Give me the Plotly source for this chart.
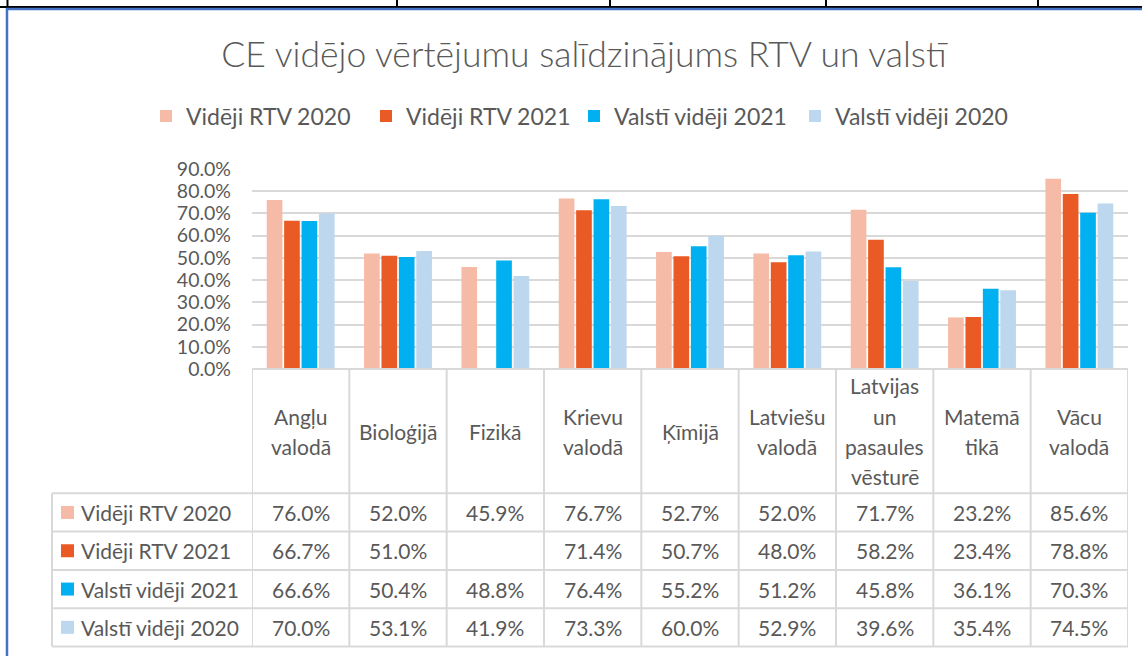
import plotly.graph_objects as go

# ---------------- data ----------------
categories = ["Angļu valodā", "Bioloģijā", "Fizikā", "Krievu valodā", "Ķīmijā",
              "Latviešu valodā", "Latvijas un pasaules vēsturē", "Matemātikā", "Vācu valodā"]
category_lines = [["Angļu", "valodā"], ["Bioloģijā"], ["Fizikā"], ["Krievu", "valodā"], ["Ķīmijā"],
                  ["Latviešu", "valodā"], ["Latvijas", "un", "pasaules", "vēsturē"],
                  ["Matemā", "tikā"], ["Vācu", "valodā"]]
series_names = ["Vidēji RTV 2020", "Vidēji RTV 2021", "Valstī vidēji 2021", "Valstī vidēji 2020"]
rtv_2020 = [0.760, 0.520, 0.459, 0.767, 0.527, 0.520, 0.717, 0.232, 0.856]
rtv_2021 = [0.667, 0.510, None, 0.714, 0.507, 0.480, 0.582, 0.234, 0.788]
valsti_2021 = [0.666, 0.504, 0.488, 0.764, 0.552, 0.512, 0.458, 0.361, 0.703]
valsti_2020 = [0.700, 0.531, 0.419, 0.733, 0.600, 0.529, 0.396, 0.354, 0.745]
series_values = [rtv_2020, rtv_2021, valsti_2021, valsti_2020]
colors = ["#F6BBA6", "#E95A25", "#00B0F0", "#BDD7EE"]
legend_widths = [175, 163, 176, 170]
y_ticks = [0.0, 0.1, 0.2, 0.3, 0.4, 0.5, 0.6, 0.7, 0.8, 0.9]
title_text = "CE vidējo vērtējumu salīdzinājums RTV un valstī"

# ---------------- layout geometry (pixels) ----------------
W, H = 1142, 656
L, R = 252, 1128          # plot area left/right
T, B = 169, 369           # plot area top (90%) / bottom (0%)
HEADER_BOTTOM = 493.3
ROW_H = 38.3
TABLE_LEFT = 52
LINE_PITCH = 30.3
FONT = "Lato, 'Open Sans', sans-serif"
TXT = "#595959"
GRID = "#D9D9D9"
TABLE_FONT = 21


def px(X):
    return (X - L) / (R - L)


def py(Y):
    return (B - Y) / (B - T)


fig = go.Figure()
for name, vals, col, lw in zip(series_names, series_values, colors, legend_widths):
    fig.add_trace(go.Bar(x=categories, y=vals, name=name, legendwidth=lw,
                         marker=dict(color=col, line=dict(width=0))))

shapes = []
annotations = []

# spreadsheet cell borders above the chart
shapes.append(dict(type="line", xref="paper", yref="paper", x0=px(0), x1=px(W), y0=py(7), y1=py(7),
                   line=dict(color="black", width=2)))
for X in [7.5, 397, 610, 826, 1038]:
    shapes.append(dict(type="line", xref="paper", yref="paper", x0=px(X), x1=px(X), y0=py(0), y1=py(7),
                       line=dict(color="black", width=2)))
# chart frame (blue)
shapes.append(dict(type="line", xref="paper", yref="paper", x0=px(6), x1=px(W), y0=py(9), y1=py(9),
                   line=dict(color="#4472C4", width=2.5)))
shapes.append(dict(type="line", xref="paper", yref="paper", x0=px(7), x1=px(7), y0=py(8), y1=py(H),
                   line=dict(color="#4472C4", width=2.5)))

# data table grid
table_bottom = HEADER_BOTTOM + ROW_H * len(series_names)
shapes.append(dict(type="line", xref="paper", yref="paper", x0=0, x1=1, y0=py(B), y1=py(B),
                   line=dict(color=GRID, width=2)))
for r in range(len(series_names) + 1):
    Y = HEADER_BOTTOM + r * ROW_H
    shapes.append(dict(type="line", xref="paper", yref="paper", x0=px(TABLE_LEFT), x1=1, y0=py(Y), y1=py(Y),
                       line=dict(color=GRID, width=2)))
for i in range(len(categories) + 1):
    shapes.append(dict(type="line", xref="x", yref="paper", x0=i - 0.5, x1=i - 0.5, y0=py(B), y1=py(table_bottom),
                       line=dict(color=GRID, width=2)))
shapes.append(dict(type="line", xref="paper", yref="paper", x0=px(TABLE_LEFT), x1=px(TABLE_LEFT),
                   y0=py(HEADER_BOTTOM), y1=py(table_bottom), line=dict(color=GRID, width=2)))

# header labels
header_c = (B + HEADER_BOTTOM) / 2
for cat, lines in zip(categories, category_lines):
    n = len(lines)
    for k, line in enumerate(lines):
        Y = header_c + (k - (n - 1) / 2) * LINE_PITCH
        annotations.append(dict(x=cat, xref="x", y=py(Y), yref="paper", text=line, showarrow=False,
                                xanchor="center", yanchor="middle",
                                font=dict(size=TABLE_FONT, color=TXT, family=FONT)))

# rows
for r, (name, vals, col) in enumerate(zip(series_names, series_values, colors)):
    Yc = HEADER_BOTTOM + (r + 0.5) * ROW_H
    shapes.append(dict(type="rect", xref="paper", yref="paper", x0=px(61), x1=px(74), y0=py(Yc - 6.5),
                       y1=py(Yc + 6.5), fillcolor=col, line=dict(width=0)))
    annotations.append(dict(x=px(79), xref="paper", y=py(Yc), yref="paper", text=name, showarrow=False,
                            xanchor="left", yanchor="middle",
                            font=dict(size=TABLE_FONT, color=TXT, family=FONT)))
    for cat, v in zip(categories, vals):
        if v is None:
            continue
        annotations.append(dict(x=cat, xref="x", y=py(Yc), yref="paper", text=f"{v*100:.1f}%", showarrow=False,
                                xanchor="center", yanchor="middle",
                                font=dict(size=TABLE_FONT, color=TXT, family=FONT)))

fig.update_layout(
    width=W, height=H,
    margin=dict(l=L, r=W - R, t=T, b=H - B, autoexpand=False),
    paper_bgcolor="white", plot_bgcolor="white",
    title=dict(text=title_text, xref="container", x=584 / W, xanchor="center", yref="container",
               y=1 - 55 / H, yanchor="middle",
               font=dict(size=35.5, color=TXT, family="'Lato Light', Lato, sans-serif", weight=300)),
    barmode="group", bargap=0.285, bargroupgap=0.1,
    xaxis=dict(range=[-0.5, len(categories) - 0.5], showticklabels=False, showgrid=False, zeroline=False,
               showline=False, ticks=""),
    yaxis=dict(range=[0, 0.9], tickvals=y_ticks, tickformat=".1%", showgrid=True, gridcolor=GRID, gridwidth=2,
               zeroline=False, showline=False, ticks="", ticklabelstandoff=20,
               tickfont=dict(size=19.5, color=TXT, family=FONT)),
    legend=dict(orientation="h", x=px(146), xanchor="left", y=py(116), yanchor="middle",
                font=dict(size=23, color=TXT, family=FONT), bgcolor="rgba(0,0,0,0)", itemclick=False),
    shapes=shapes, annotations=annotations,
)

fig.write_html("out.html")
